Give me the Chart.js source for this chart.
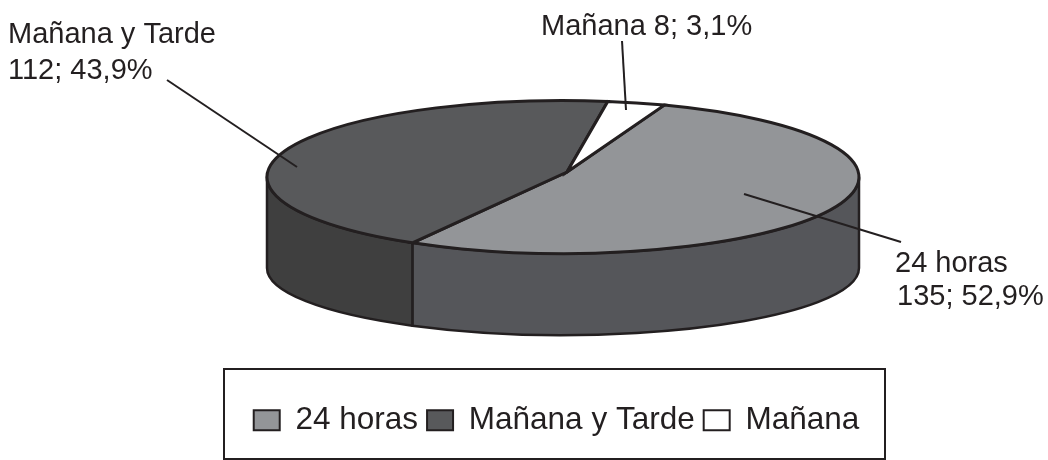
<!DOCTYPE html>
<html>
<head>
<meta charset="utf-8">
<title>Turnos</title>
<script src="https://cdn.jsdelivr.net/npm/chart.js@4/dist/chart.umd.js"></script>
<style>
  html, body { margin: 0; padding: 0; background: #fff; }
  canvas { display: block; }
</style>
</head>
<body>
<canvas id="chart-pie" width="1048" height="460"></canvas>
<script>
const categories = ['24 horas', 'Mañana y Tarde', 'Mañana'];
const values = [135, 112, 8];
const percents = ['52,9%', '43,9%', '3,1%'];
const topColors = ['#939598', '#58595b', '#ffffff'];
const wallColors = ['#55565a', '#3f3f3f', '#ffffff'];

const INK = '#231f20';
const FONT = "'Liberation Sans', Arial, sans-serif";

// flattened pie: top face and the (slightly flatter) bottom rim
const TOP = { x: 563, y: 177, rx: 296, ry: 76.5 };
const BOTTOM = { x: 563, y: 268, rx: 296, ry: 67 };
// the slices meet a little off the ellipse centre in the original
const APEX = { x: 567, y: 172 };

/* ---- 3D look: walls below the slices, outlines and callouts above ---- */

const flatPie = {
  id: 'flatPie',
  beforeDatasetsDraw(chart) {
    const ctx = chart.ctx;
    const arcs = chart.getDatasetMeta(0).data;

    // walls, only the front half can be seen
    arcs.forEach((arc, i) => {
      const a0 = Math.max(arc.startAngle, 0);
      const a1 = Math.min(arc.endAngle, Math.PI);
      if (a0 >= a1) return;
      ctx.beginPath();
      ctx.ellipse(TOP.x, TOP.y, TOP.rx, TOP.ry, 0, a0, a1);
      ctx.ellipse(BOTTOM.x, BOTTOM.y, BOTTOM.rx, BOTTOM.ry, 0, a1, a0, true);
      ctx.closePath();
      ctx.fillStyle = wallColors[i];
      ctx.fill();
      ctx.lineWidth = 2.5;
      ctx.strokeStyle = INK;
      ctx.lineJoin = 'round';
      ctx.stroke();
    });

    // squash the library's round pie onto the top face
    const first = arcs[0];
    ctx.save();
    ctx.translate(TOP.x, TOP.y);
    ctx.scale(TOP.rx / first.outerRadius, TOP.ry / first.outerRadius);
    ctx.translate(-first.x, -first.y);
  },
  afterDatasetsDraw(chart) {
    const ctx = chart.ctx;
    ctx.restore();

    chart.getDatasetMeta(0).data.forEach((arc, i) => {
      ctx.beginPath();
      ctx.moveTo(APEX.x, APEX.y);
      ctx.ellipse(TOP.x, TOP.y, TOP.rx, TOP.ry, 0, arc.startAngle, arc.endAngle);
      ctx.closePath();
      ctx.fillStyle = topColors[i];
      ctx.fill();
      ctx.lineWidth = 3;
      ctx.strokeStyle = INK;
      ctx.lineJoin = 'miter';
      ctx.stroke();
    });

    // leader lines
    ctx.lineWidth = 2;
    ctx.strokeStyle = INK;
    [[622, 41, 626, 110], [167, 80, 297, 167], [744, 194, 901, 242]].forEach((l) => {
      ctx.beginPath();
      ctx.moveTo(l[0], l[1]);
      ctx.lineTo(l[2], l[3]);
      ctx.stroke();
    });

    // callout text
    ctx.fillStyle = INK;
    ctx.font = '29px ' + FONT;
    ctx.textAlign = 'left';
    ctx.textBaseline = 'alphabetic';
    ctx.fillText(categories[2] + ' ' + values[2] + '; ' + percents[2], 541, 35);
    ctx.fillText(categories[1], 8, 43);
    ctx.fillText(values[1] + '; ' + percents[1], 8, 79);
    ctx.fillText(categories[0], 895, 272);
    ctx.fillText(values[0] + '; ' + percents[0], 897, 305);

    // legend frame
    ctx.lineWidth = 2;
    ctx.strokeStyle = INK;
    ctx.strokeRect(224, 369, 661, 90);
  }
};

new Chart(document.getElementById('chart-pie'), {
  type: 'pie',
  data: {
    labels: categories,
    datasets: [{
      data: values,
      backgroundColor: topColors,
      borderWidth: 0,
      clip: false
    }]
  },
  options: {
    responsive: false,
    animation: false,
    rotation: 20,
    layout: { padding: { left: 65, bottom: 14 } },
    plugins: {
      tooltip: { enabled: false },
      legend: {
        position: 'bottom',
        labels: {
          color: INK,
          boxWidth: 26,
          boxHeight: 20,
          padding: 9,
          font: { family: FONT, size: 31.5 },
          generateLabels: (chart) => Chart.overrides.pie.plugins.legend.labels.generateLabels(chart).map((item) => ({
            ...item,
            strokeStyle: INK,
            lineWidth: 2
          }))
        }
      }
    }
  },
  plugins: [flatPie]
});
</script>
</body>
</html>
